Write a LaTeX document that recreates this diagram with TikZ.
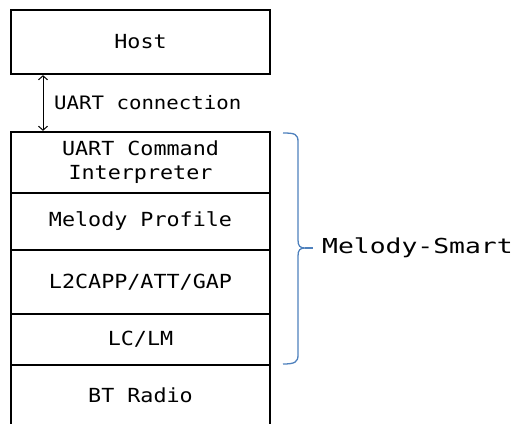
\documentclass[tikz,border=0pt]{standalone}
\usepackage{fontspec}
\usetikzlibrary{arrows.meta}
\newfontfamily\stackfont[FakeStretch=1.12]{DejaVu Sans Mono}
\newfontfamily\bracefont[FakeStretch=1.28]{DejaVu Sans Mono}
\definecolor{braceblue}{HTML}{4F81BD}
\tikzset{
  layer/.style={draw=black, line width=2.3pt, minimum width=259pt, inner sep=0pt,
    align=center, font=\stackfont\fontsize{19.4}{24}\selectfont},
  plainlayer/.style={layer, draw=none, outer sep=0pt},
  conn/.style={line width=1pt, {Straight Barb[length=4pt,width=9pt]}-{Straight Barb[length=4pt,width=9pt]}},
  bracestyle/.style={draw=braceblue, line width=1.3pt},
}
\begin{document}
\begin{tikzpicture}[x=1pt,y=-1pt]
\useasboundingbox (0,0) rectangle (513,423);
\node[layer, minimum height=64pt] (host) at (140.5,42) {Host};
\node[layer, minimum height=61pt] (uci) at (140.5,162.5) {UART Command\\Interpreter};
\node[layer, minimum height=57pt] (mp) at (140.5,221.5) {Melody Profile};
\node[layer, minimum height=64pt] (l2) at (140.5,282) {L2CAPP/ATT/GAP};
\node[layer, minimum height=51pt] (lc) at (140.5,339.5) {LC/LM};
\node[plainlayer, minimum height=60pt] (bt) at (140.5,395) {BT Radio};
\draw[line width=2.3pt] (bt.north west) -- (bt.south west);
\draw[line width=2.3pt] (bt.north east) -- (bt.south east);
\coordinate (ax) at (43,0);
\draw[conn] (host.south -| ax) -- (uci.north -| ax);
\node[anchor=west, inner sep=0pt, font=\stackfont\fontsize{18.5}{22}\selectfont] (uartlbl) at (54,103) {UART connection};
\node[anchor=west, inner sep=0pt, font=\bracefont\fontsize{20.6}{24}\selectfont] (ms) at (322,248) {Melody-Smart};
\draw[bracestyle] (283,133) .. controls (295,133) and (298,134) .. (298,142)
  -- (298,240) .. controls (298,246) and (300,248) .. (305,248)
  .. controls (300,248) and (298,250) .. (298,256)
  -- (298,355) .. controls (298,362) and (295,364) .. (283,364);
\draw[bracestyle] (305,248) -- (ms.west -| 313,0);
\end{tikzpicture}
\end{document}
